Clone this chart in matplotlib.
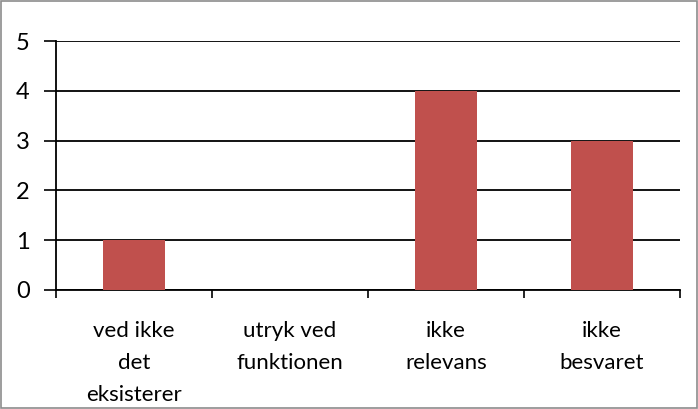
import matplotlib.pyplot as plt
import numpy as np

categories = ['ved ikke\ndet\neksisterer', 'utryk ved\nfunktionen', 'ikke\nrelevans', 'ikke\nbesvaret']
values = [1, 0, 4, 3]
y_ticks = [0, 1, 2, 3, 4, 5]

plt.rcParams['font.family'] = ['Lato', 'DejaVu Sans']

fig = plt.figure(figsize=(6.98, 4.09), dpi=100)
ax = fig.add_axes([56 / 698, 1 - 290 / 409, 624 / 698, 249 / 409])

x = np.arange(len(categories))
ax.bar(x, values, width=0.4, color='#C0504D', zorder=3)

ax.set_xlim(-0.5, len(categories) - 0.5)
ax.set_ylim(0, 5)
ax.set_yticks(y_ticks)
ax.set_yticklabels([str(v) for v in y_ticks], fontsize=17)
ax.yaxis.grid(True, color='black', linewidth=1.3, zorder=0)

ax.set_xticks(np.arange(len(categories) + 1) - 0.5)
ax.set_xticklabels([])
ax.set_xticks(x, minor=True)
ax.set_xticklabels(categories, minor=True, fontsize=16, linespacing=1.75)
ax.tick_params(axis='x', which='minor', length=0, pad=22)
ax.tick_params(axis='x', which='major', length=6, width=1.2, direction='out')
ax.tick_params(axis='y', length=9, width=1.2, direction='out', pad=10)

for side in ['top', 'right']:
    ax.spines[side].set_visible(False)
for side in ['left', 'bottom']:
    ax.spines[side].set_linewidth(1.3)

border = plt.Rectangle((0.002, 0.002), 0.996, 0.996, transform=fig.transFigure,
                       fill=False, edgecolor='#8c8c8c', linewidth=1.2)
fig.patches.append(border)

fig.savefig('out.png', dpi=100)
